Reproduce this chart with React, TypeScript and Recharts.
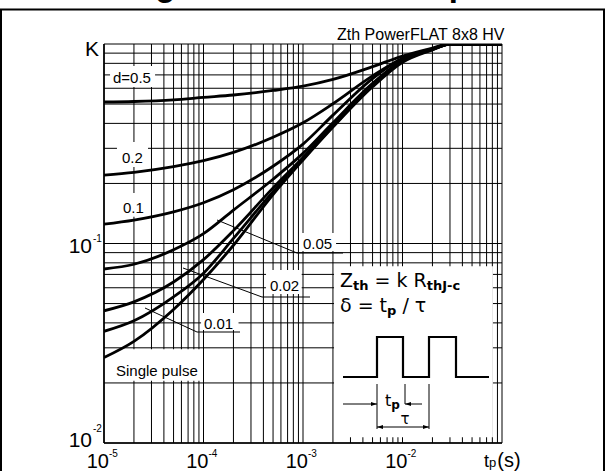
import React from 'react';
import { LineChart, Line, XAxis, YAxis, CartesianGrid, ReferenceArea } from 'recharts';

// pulse duration (s)
const tp = [1e-5, 2e-5, 5e-5, 1e-4, 2e-4, 5e-4, 1e-3, 2e-3, 5e-3, 1e-2, 2e-2, 3e-2, 5e-2, 1e-1];

// normalized thermal impedance K for each duty cycle
const kD05 = [0.512, 0.515, 0.525, 0.54, 0.555, 0.585, 0.615, 0.665, 0.77, 0.87, 0.955, 1, 1, 1];
const kD02 = [0.22, 0.2275, 0.243, 0.26, 0.286, 0.341, 0.403, 0.502, 0.692, 0.845, 0.94, 1, 1, 1];
const kD01 = [0.125, 0.131, 0.144, 0.16, 0.186, 0.244, 0.315, 0.44, 0.671, 0.845, 0.945, 1, 1, 1];
const kD005 = [0.0745, 0.0787, 0.093, 0.112, 0.147, 0.21, 0.283, 0.403, 0.635, 0.83, 0.945, 1, 1, 1];
const kD002 = [0.046, 0.051, 0.0641, 0.083, 0.116, 0.19, 0.27, 0.392, 0.628, 0.826, 0.942, 1, 1, 1];
const kD001 = [0.0363, 0.041, 0.054, 0.071, 0.106, 0.182, 0.265, 0.387, 0.618, 0.818, 0.938, 1, 1, 1];
const kSingle = [0.0268, 0.0323, 0.0467, 0.066, 0.098, 0.176, 0.262, 0.383, 0.61, 0.81, 0.935, 1, 1, 1];

const seriesKeys = ['d05', 'd02', 'd01', 'd005', 'd002', 'd001', 'single'];

// grid ticks: 1..9 per decade
const xDecades = [-5, -4, -3, -2];
const yDecades = [-2, -1];
const mult = [1, 2, 3, 4, 5, 6, 7, 8, 9];
const xTicks = [...xDecades.flatMap((e) => mult.map((m) => Number((m * 10 ** e).toPrecision(3)))), 0.1];
const yTicks = [...yDecades.flatMap((e) => mult.map((m) => Number((m * 10 ** e).toPrecision(3)))), 1];

const data = tp.map((t, i) => ({
  tp: t,
  d05: kD05[i],
  d02: kD02[i],
  d01: kD01[i],
  d005: kD005[i],
  d002: kD002[i],
  d001: kD001[i],
  single: kSingle[i],
}));

// white boxes behind labels, in data units
const whiteBoxes = [
  { x1: 1.15e-5, x2: 3.26e-5, y1: 0.609, y2: 0.776 },
  { x1: 1.35e-5, x2: 2.77e-5, y1: 0.2417, y2: 0.323 },
  { x1: 1.35e-5, x2: 2.77e-5, y1: 0.136, y2: 0.179 },
  { x1: 9.12e-4, x2: 2.15e-3, y1: 0.0917, y2: 0.113 },
  { x1: 4.25e-4, x2: 9.7e-4, y1: 0.0558, y2: 0.0736 },
  { x1: 9.45e-5, x2: 2.25e-4, y1: 0.0368, y2: 0.0449 },
  { x1: 1.02e-5, x2: 9.6e-5, y1: 0.0205, y2: 0.0295 },
  { x1: 2.05e-3, x2: 0.081, y1: 0.0107, y2: 0.077 },
];

const isDecade = (v: number) => {
  const l = Math.log10(v);
  return Math.abs(l - Math.round(l)) < 1e-6;
};

const renderXTick = (props: any) => {
  const { x, y, payload } = props;
  const v = payload.value;
  if (!isDecade(v)) return <g />;
  const e = Math.round(Math.log10(v));
  if (e === -1) {
    return (
      <text x={x - 18} y={y + 24} fontSize={18} fill="#000">
        t<tspan fontSize={13}>p</tspan>
        <tspan fontSize={20} dx={1}>(s)</tspan>
      </text>
    );
  }
  return (
    <g>
      <text x={x + 5} y={y + 25} textAnchor="end" fontSize={20} fill="#000">10</text>
      <text x={x + 5} y={y + 14} fontSize={10} fill="#000">{String(e)}</text>
    </g>
  );
};

const renderYTick = (props: any) => {
  const { x, y, payload } = props;
  const v = payload.value;
  if (!isDecade(v)) return <g />;
  const e = Math.round(Math.log10(v));
  if (e === 0) {
    return (
      <text x={x - 5} y={y + 12} textAnchor="end" fontSize={21} fill="#000">K</text>
    );
  }
  const dy = e === -1 ? 9.5 : 4;
  const sy = e === -1 ? -1.5 : -11;
  return (
    <g>
      <text x={x - 12} y={y + dy} textAnchor="end" fontSize={21} fill="#000">10</text>
      <text x={x - 11} y={y + sy} fontSize={10} fill="#000">{String(e)}</text>
    </g>
  );
};

const Arrow = ({ x, y, dir }: { x: number; y: number; dir: 1 | -1 }) => (
  <path d={`M${x},${y} L${x - dir * 6},${y - 2} L${x - dir * 6},${y + 2} Z`} fill="#000" />
);

const Overlay = () => (
  <svg
    width={606}
    height={471}
    style={{ position: 'absolute', left: 0, top: 0, pointerEvents: 'none' }}
    fontFamily="'Liberation Sans', Arial, sans-serif"
  >
    {/* clipped title and frame */}
    <text x={126} y={-4} fontSize={33} fontWeight="bold" fill="#000">Figure 3. Thermal impedance</text>
    <rect x={1} y={9.5} width={603} height={500} fill="none" stroke="#000" strokeWidth={2} />

    <text x={337} y={40} fontSize={16} fill="#000">Zth PowerFLAT 8x8 HV</text>

    {/* curve labels */}
    <g fontSize={15} fill="#000">
      <text x={113} y={83}>d=0.5</text>
      <text x={122} y={163}>0.2</text>
      <text x={123} y={213}>0.1</text>
      <text x={303} y={249}>0.05</text>
      <text x={270} y={291}>0.02</text>
      <text x={204} y={329}>0.01</text>
      <text x={116} y={376}>Single pulse</text>
    </g>
    <g stroke="#000" strokeWidth={1} fill="none">
      <path d="M217,220 L297,253 L343,253" />
      <path d="M183,268 L262,297 L310,297" />
      <path d="M145,308 L197,332 L240,332" />
    </g>

    {/* inset */}
    <g fontFamily="'DejaVu Sans', sans-serif" fill="#000">
      <text x={340} y={287} fontSize={19}>
        Z<tspan fontSize={13} fontWeight="bold" dy={3}>th</tspan>
        <tspan dy={-3}> = k R</tspan>
        <tspan fontSize={13} fontWeight="bold" dy={3}>thJ-c</tspan>
      </text>
      <text x={340} y={312} fontSize={19}>
        δ = t<tspan fontSize={13} fontWeight="bold" dy={3}>p</tspan>
        <tspan dy={-3}> / τ</tspan>
      </text>
      <text x={385} y={406} fontSize={16}>
        t<tspan fontSize={12} fontWeight="bold" dy={3}>p</tspan>
      </text>
      <text x={405} y={424} fontSize={15} textAnchor="middle">τ</text>
    </g>
    <polyline
      points="343,377 377,377 377,337 403,337 403,377 429,377 429,337 456,337 456,377 489,377"
      fill="none"
      stroke="#000"
      strokeWidth={2.2}
    />
    <g stroke="#000" strokeWidth={1} fill="none">
      <line x1={377} y1={384} x2={377} y2={429} />
      <line x1={429} y1={384} x2={429} y2={429} />
      <line x1={405} y1={384} x2={405} y2={404} />
      <line x1={343} y1={404} x2={377} y2={404} />
      <line x1={405} y1={404} x2={422} y2={404} />
      <line x1={377} y1={427} x2={429} y2={427} />
    </g>
    <Arrow x={377} y={404} dir={1} />
    <Arrow x={405} y={404} dir={-1} />
    <Arrow x={377} y={427} dir={-1} />
    <Arrow x={429} y={427} dir={1} />
  </svg>
);

export default function App() {
  return (
    <div
      style={{
        position: 'absolute',
        left: 0,
        top: 0,
        width: 606,
        height: 471,
        background: '#fff',
        fontFamily: "'Liberation Sans', Arial, sans-serif",
        overflow: 'hidden',
      }}
    >
      <LineChart width={606} height={471} data={data} margin={{ top: 44, right: 104, bottom: 0, left: 44 }}>
        <CartesianGrid stroke="#000" strokeWidth={1} />
        <XAxis
          dataKey="tp"
          type="number"
          scale="log"
          domain={[1e-5, 0.1]}
          ticks={xTicks}
          interval={0}
          tick={renderXTick}
          tickLine={false}
          tickSize={0}
          tickMargin={0}
          height={28}
          allowDataOverflow
          axisLine={{ stroke: '#000', strokeWidth: 1.6 }}
        />
        <YAxis
          type="number"
          scale="log"
          domain={[0.01, 1]}
          ticks={yTicks}
          interval={0}
          tick={renderYTick}
          tickLine={false}
          tickSize={0}
          tickMargin={0}
          width={60}
          allowDataOverflow
          axisLine={{ stroke: '#000', strokeWidth: 1.6 }}
        />
        {whiteBoxes.map((b, i) => (
          <ReferenceArea
            key={i}
            x1={b.x1}
            x2={b.x2}
            y1={b.y1}
            y2={b.y2}
            fill="#fff"
            fillOpacity={1}
            stroke="none"
            ifOverflow="visible"
            zIndex={-50}
          />
        ))}
        {seriesKeys.map((k) => (
          <Line
            key={k}
            dataKey={k}
            type="monotone"
            stroke="#000"
            strokeWidth={2.8}
            dot={false}
            isAnimationActive={false}
          />
        ))}
      </LineChart>
      <Overlay />
    </div>
  );
}
